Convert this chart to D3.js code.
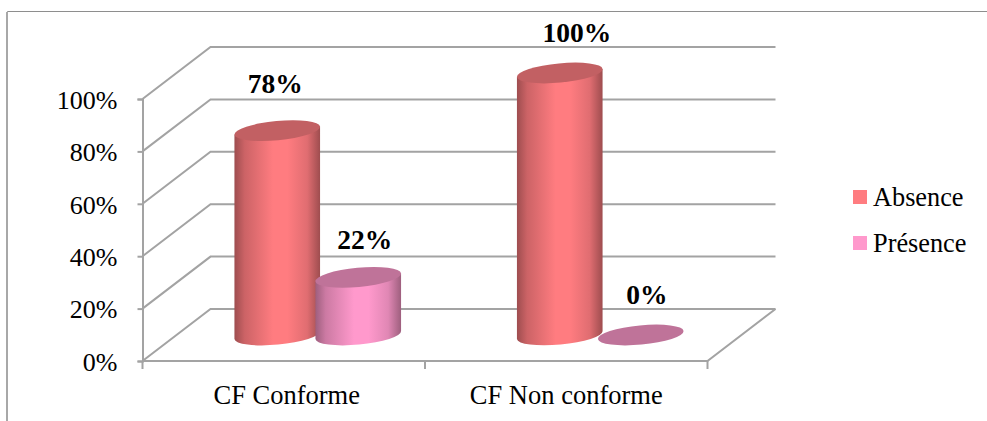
<!DOCTYPE html>
<html><head><meta charset="utf-8">
<script src="https://cdn.jsdelivr.net/npm/d3@7"></script>
<style>html,body{margin:0;padding:0;background:#fff}svg{display:block}
text{font-family:"Liberation Serif","Times New Roman",serif;fill:#000}</style></head>
<body><svg id="c" width="987" height="421"></svg>
<script>
const categories = ["CF Conforme", "CF Non conforme"];
const seriesNames = ["Absence", "Présence"];
const absence = [78, 100];
const presence = [22, 0];
const yTicks = [0, 20, 40, 60, 80, 100];

const svg = d3.select("#c");
const defs = svg.append("defs");
const gray = "#a3a3a3";
const dx = 68, dy = -52;
const y = d3.scaleLinear().domain([0, 100]).range([361, 99]);
const x = d3.scaleBand().domain(categories).range([142.5, 707.5]);
const inner = d3.scaleBand().domain(seriesNames).range([-81, 81]);
const palette = d3.scaleOrdinal().domain(seriesNames).range(["#ff7c80", "#ff99cc"]);
const topCol = d3.scaleOrdinal().domain(seriesNames).range(["#c26063", "#bf7399"]);

seriesNames.forEach((s, i) => {
  const c = palette(s), g = defs.append("linearGradient").attr("id", "g" + i);
  [[0, .62], [.12, .8], [.45, 1], [.62, 1], [.85, .88], [1, .62]].forEach(([o, k]) => {
    const col = d3.rgb(c);
    g.append("stop").attr("offset", o).attr("stop-color", d3.rgb(col.r * k, col.g * k, col.b * k));
  });
});

// Frame
svg.append("path").attr("d", "M7.5,421V11.5H987").attr("fill", "none").attr("stroke", "#8e8e8e").attr("stroke-width", 1);
svg.append("line").attr("x1", 7).attr("x2", 7).attr("y1", 12).attr("y2", 421).attr("stroke", "#a8a8a8").attr("stroke-width", 2);

// Back wall gridlines, side wall and floor
const grid = svg.append("g").attr("fill", "none").attr("stroke", gray).attr("stroke-width", 2);
yTicks.forEach(t => {
  grid.append("polyline").attr("points", [
    [x.range()[0], y(t)], [x.range()[0] + dx, y(t) + dy], [x.range()[1] + dx, y(t) + dy]
  ].join(" "));
});
grid.append("polyline").attr("points", [
  [x.range()[0], y(0)], [x.range()[1], y(0)], [x.range()[1] + dx, y(0) + dy]
].join(" "));

// Axes
const yAxis = d3.axisLeft(y).tickValues(yTicks).tickFormat(d => d + "%").tickSize(5).tickPadding(20);
const gy = svg.append("g").attr("transform", `translate(${x.range()[0]},0)`).call(yAxis);
gy.selectAll("text").attr("font-size", 26).attr("dy", "0.36em");
const xAxis = d3.axisBottom(x).tickSize(0).tickPadding(24);
const gx = svg.append("g").attr("transform", `translate(0,${y(0)})`).call(xAxis);
gx.selectAll("text").attr("font-size", 26.5).attr("dx", (d, i) => i === 0 ? 3 : 0);
[x.range()[0], x.range()[0] + x.step(), x.range()[1]].forEach(px =>
  gx.append("line").attr("x1", px).attr("x2", px).attr("y1", 0).attr("y2", 8));
[gy, gx].forEach(g => { g.selectAll("line,path").attr("stroke", gray).attr("stroke-width", 2); g.select(".domain").attr("fill", "none"); });
gx.select(".domain").remove();
gy.attr("font-family", null); gx.attr("font-family", null);

// Cylinders
const rx = 43, ry = 9.6, tilt = -5.4;
const rad = tilt * Math.PI / 180;
const ox = rx * Math.cos(rad), oy = rx * Math.sin(rad);
const labelShift = [[-2, -38], [6.5, -28], [17, -31], [6, -31]];
const marks = [];
categories.forEach((c, ci) => {
  seriesNames.forEach((s, si) => {
    marks.push({ c, s, si, v: (si === 0 ? absence : presence)[ci] });
  });
});
const bars = svg.append("g");
marks.forEach((m, i) => {
  const cx = x(m.c) + x.bandwidth() / 2 + dx / 2 + inner(m.s) + inner.bandwidth() / 2;
  const yBase = y(0) + dy / 2, yTop = y(m.v) + dy / 2;
  const g = bars.append("g");
  if (m.v > 0) {
    g.append("path").attr("fill", `url(#g${m.si})`).attr("d",
      `M${cx - ox},${yTop - oy}L${cx + ox},${yTop + oy}L${cx + ox},${yBase + oy}` +
      `A${rx},${ry} ${tilt} 0 1 ${cx - ox},${yBase - oy}Z`);
  }
  g.append("ellipse").attr("cx", cx).attr("cy", yTop).attr("rx", rx).attr("ry", ry)
    .attr("transform", `rotate(${tilt} ${cx} ${yTop})`).attr("fill", topCol(m.s));
  const [lx, ly] = labelShift[i];
  svg.append("text").attr("x", cx + lx).attr("y", yTop + ly).attr("text-anchor", "middle")
    .attr("font-size", 27.5).attr("font-weight", "bold").text(m.v + "%");
});

// Legend
const legendY = d3.scalePoint().domain(seriesNames).range([197, 243]);
seriesNames.forEach(s => {
  svg.append("rect").attr("x", 853).attr("y", legendY(s) - 7).attr("width", 14).attr("height", 14).attr("fill", palette(s));
  svg.append("text").attr("x", 873).attr("y", legendY(s) + 9).attr("font-size", 26.3).text(s);
});
</script></body></html>
